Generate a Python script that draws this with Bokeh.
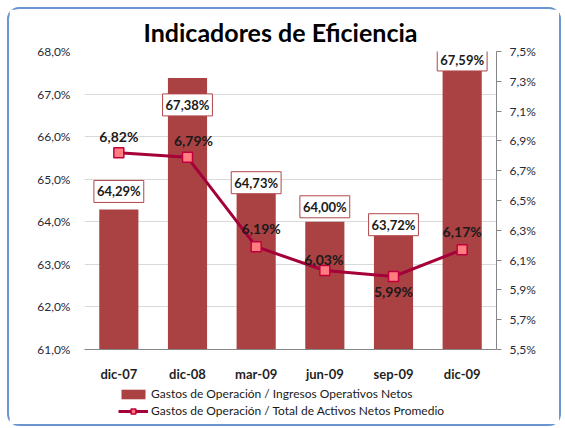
from bokeh.plotting import figure
from bokeh.layouts import column
from bokeh.models import (ColumnDataSource, LinearAxis, Range1d, FixedTicker,
                          CustomJSTickFormatter, Legend, LegendItem)
from bokeh.core.properties import value
from bokeh.embed import file_html
from bokeh.resources import INLINE

categories = ["dic-07", "dic-08", "mar-09", "jun-09", "sep-09", "dic-09"]
gastos_ingresos = [64.29, 67.38, 64.73, 64.00, 63.72, 67.59]
gastos_activos = [6.82, 6.79, 6.19, 6.03, 5.99, 6.17]
left_ticks = [61, 62, 63, 64, 65, 66, 67, 68]
right_ticks = [5.5, 5.7, 5.9, 6.1, 6.3, 6.5, 6.7, 6.9, 7.1, 7.3, 7.5]
series_names = ["Gastos de Operación / Ingresos Operativos Netos",
                "Gastos de Operación / Total de Activos Netos Promedio"]

# label placement (screen px; positive = down, as in canvas coords)
bar_label_dy = [-18, 27, -8, -15, -9, -9]
line_label_dx = [0, 6, 5, -1, 0, 0]
line_label_dy = [-16, -17, -18, -11, 15, -18]

FONT = "Lato"
BAR = "#AA4142"
LINE = "#A5003A"
MFILL = "#FF7C80"
MLINE = "#C0003C"

def fmt(v):
    return f"{v:.2f}".replace(".", ",") + "%"

src = ColumnDataSource(dict(
    cat=categories,
    bar=gastos_ingresos,
    line=gastos_activos,
    bar_txt=[fmt(v) for v in gastos_ingresos],
    line_txt=[fmt(v) for v in gastos_activos],
    bdy=bar_label_dy,
    ldx=line_label_dx,
    ldy=line_label_dy,
))

p = figure(x_range=categories, y_range=Range1d(left_ticks[0], left_ticks[-1]),
           width=550, height=375, output_backend="svg", toolbar_location=None,
           min_border_left=75, min_border_right=63, min_border_top=41,
           min_border_bottom=32)
p.extra_y_ranges = {"right": Range1d(right_ticks[0], right_ticks[-1])}

p.title.text = "Indicadores de Eficiencia"
p.title.align = "left"
p.title.offset = 59
p.title.text_font = FONT
p.title.text_font_size = "25px"
p.title.text_font_style = "bold"
p.title.text_color = "#000000"

p.outline_line_color = None

fmt_js = CustomJSTickFormatter(code="return tick.toFixed(1).replace('.', ',') + '%';")

ya = p.yaxis[0]
ya.ticker = FixedTicker(ticks=left_ticks)
ya.formatter = fmt_js
ya.axis_line_color = None
ya.major_tick_line_color = None
ya.major_tick_out = 0
ya.minor_tick_line_color = None
ya.major_label_standoff = 14
ya.major_label_text_font = FONT
ya.major_label_text_font_size = "12px"
ya.major_label_text_color = "#1F2A3A"

ra = LinearAxis(y_range_name="right", ticker=FixedTicker(ticks=right_ticks),
                formatter=fmt_js)
ra.axis_line_color = "#868686"
ra.major_tick_line_color = "#868686"
ra.major_tick_out = 5
ra.major_tick_in = 0
ra.minor_tick_line_color = None
ra.major_label_standoff = 8
ra.major_label_text_font = FONT
ra.major_label_text_font_size = "12px"
ra.major_label_text_color = "#1F2A3A"
p.add_layout(ra, "right")

xa = p.xaxis[0]
xa.axis_line_color = "#868686"
xa.major_tick_line_color = None
xa.major_tick_out = 0
xa.major_tick_in = 0
xa.minor_tick_line_color = None
xa.major_label_standoff = 16
xa.major_label_text_font = FONT
xa.major_label_text_font_size = "13px"
xa.major_label_text_font_style = "bold"
xa.major_label_text_color = "#1F1F1F"

p.xgrid.grid_line_color = None
p.ygrid.ticker = FixedTicker(ticks=left_ticks)
p.ygrid.grid_line_color = "#D9D9D9"

p.vbar(x="cat", top="bar", bottom=left_ticks[0], width=0.57, source=src,
       fill_color=BAR, line_color=None)
p.line(x="cat", y="line", y_range_name="right", source=src,
       line_color=LINE, line_width=3)
p.scatter(x="cat", y="line", y_range_name="right", source=src,
          marker="square", size=10, fill_color=MFILL,
          line_color=MLINE, line_width=1.5)

p.text(x="cat", y="bar", text="bar_txt", source=src, y_offset="bdy",
       text_align="center", text_baseline="middle",
       text_font=value(FONT), text_font_size="13px", text_font_style="bold",
       text_color="#1A1A1A", background_fill_color="white",
       border_line_color="#B0474A", border_line_width=1, padding=3)

p.text(x="cat", y="line", text="line_txt", source=src, y_range_name="right",
       x_offset="ldx", y_offset="ldy",
       text_align="center", text_baseline="middle",
       text_font=value(FONT), text_font_size="14px", text_font_style="bold",
       text_color="#1A1A1A")

# legend strip below the chart (frame aligned with the chart's frame)
lg = figure(width=550, height=40, output_backend="svg", toolbar_location=None,
            x_range=Range1d(0, 1), y_range=Range1d(0, 1),
            min_border_left=0, min_border_right=0, min_border_top=0,
            min_border_bottom=0)
lg.axis.visible = False
lg.grid.visible = False
lg.outline_line_color = None
nan = float("nan")
proxy = ColumnDataSource(dict(x=[nan], y=[nan]))
r_bar = lg.vbar(x="x", top="y", width=0.5, source=proxy, fill_color=BAR, line_color=None)
r_ln = lg.line(x="x", y="y", source=proxy, line_color=LINE, line_width=3)
r_mk = lg.scatter(x="x", y="y", source=proxy, marker="square", size=9,
                  fill_color=MFILL, line_color=MLINE, line_width=1.5)

legend = Legend(items=[
    LegendItem(label=series_names[0], renderers=[r_bar]),
    LegendItem(label=series_names[1], renderers=[r_ln, r_mk]),
], location=(34, 6), orientation="vertical", padding=0, margin=0, spacing=2,
    glyph_width=30, glyph_height=12, label_standoff=3,
    label_text_font=FONT, label_text_font_size="12px", label_text_color="#1A1A1A",
    background_fill_alpha=0, border_line_color=None, label_height=12)
lg.add_layout(legend)

layout = column(p, lg, spacing=0)
layout.styles = {"margin": "7px", "border": "2px solid #6A95CF",
                 "border-radius": "12px", "box-sizing": "content-box"}

open("out.html", "w").write(file_html(layout, INLINE))
